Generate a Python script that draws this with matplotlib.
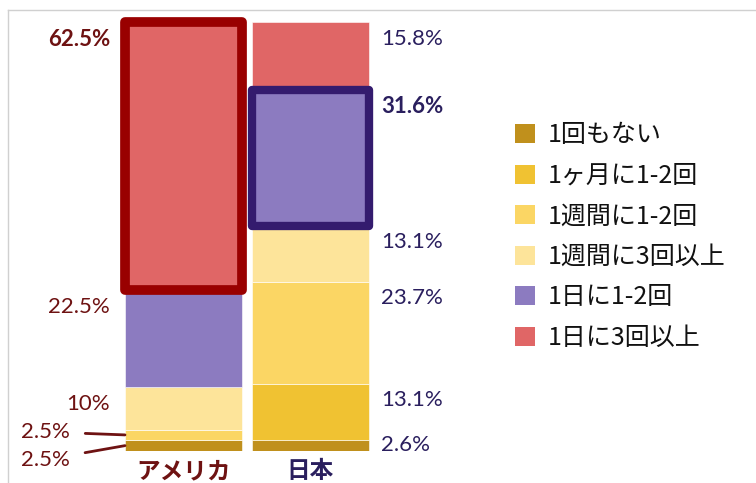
import matplotlib.pyplot as plt
from matplotlib.lines import Line2D
from matplotlib.patches import Patch

# Data
#---------------------------
countries = ["アメリカ", "日本"]
categories = ["1回もない", "1ヶ月に1-2回", "1週間に1-2回", "1週間に3回以上", "1日に1-2回", "1日に3回以上"]
usa = [2.5, 0, 2.5, 10, 22.5, 62.5]
japan = [2.6, 13.1, 23.7, 13.1, 31.6, 15.8]
highlight = [5, 4]   # segment that gets the thick box, per country

colors = ["#C0901C", "#F0C232", "#FBD664", "#FDE49A", "#8C7BC0", "#E06666"]
box_colors = ["#990000", "#341B6E"]
text_colors = ["#6E1212", "#2A1F5E"]

plt.rcParams['font.family'] = ['Lato', 'Noto Sans CJK JP', 'DejaVu Sans']

W, H = 756, 483
fig = plt.figure(figsize=(W / 100, H / 100), dpi=100)
# axes placed so that 0..100 maps onto the bar area
ax = fig.add_axes([120 / W, (H - 451) / H, 254 / W, 429 / H])
ax.set_xlim(-0.5, 1.5)
ax.set_ylim(0, 100)
ax.axis('off')

series = [usa, japan]
width = 117 / 127
for ci, vals in enumerate(series):
    bottom = 0
    for si, v in enumerate(vals):
        bar = ax.bar(ci, v, width=width, bottom=bottom, color=colors[si],
                     edgecolor="white", linewidth=0.4, zorder=2)[0]
        if si == highlight[ci]:
            bar.set_edgecolor(box_colors[ci])
            bar.set_linewidth(7 if ci == 0 else 6)
            bar.set_joinstyle('round')
            bar.set_zorder(4)
            bar.set_clip_on(False)
        bottom += v

# percentage labels
fs = 16
for ci, vals in enumerate(series):
    bottom = 0
    for si, v in enumerate(vals):
        top = bottom + v
        if v > 0:
            bold = 'bold' if si == highlight[ci] else 'normal'
            label = f"{v:g}%"
            if ci == 0:
                xe = ci - width / 2
                if v < 5:
                    # small slices: label with a leader line
                    mid = bottom + v / 2
                    dy = 3 if si == 2 else -14
                    ax.annotate(label, xy=(xe, mid), xytext=(-55, dy),
                                textcoords='offset pixels', ha='right', va='center',
                                fontsize=fs, color=text_colors[ci],
                                arrowprops=dict(arrowstyle='-', color=text_colors[ci],
                                                lw=2, shrinkA=9, shrinkB=0))
                else:
                    ax.annotate(label, xy=(xe, top), xytext=(-15, -17),
                                textcoords='offset pixels', ha='right', va='center',
                                fontsize=fs, fontweight=bold, color=text_colors[ci])
            else:
                xe = ci + width / 2
                ly = max(top - 3.8, 1.5)
                ax.annotate(label, xy=(xe, ly), xytext=(12, 0),
                            textcoords='offset pixels', ha='left', va='center',
                            fontsize=fs, fontweight=bold, color=text_colors[ci])
        bottom = top

# country names under the bars
for ci, name in enumerate(countries):
    ax.annotate(name, xy=(ci, 0), xytext=(0, -20), textcoords='offset pixels',
                ha='center', va='center', fontsize=17, fontweight='bold',
                color=text_colors[ci], family=['Noto Sans CJK JP'])

# legend
handles = [Patch(facecolor=c, edgecolor='none') for c in colors]
fig.legend(handles, categories, loc='upper left', bbox_to_anchor=(492 / W, 1 - 100 / H),
           frameon=False, prop={'family': 'Noto Sans CJK JP', 'size': 18},
           handlelength=0.8, handleheight=0.8, handletextpad=0.55,
           labelspacing=0.58, labelcolor='#111111')

# thin frame lines
fig.add_artist(Line2D([8 / W, 1], [1 - 10 / H, 1 - 10 / H], color='#d0d0d0', lw=1))
fig.add_artist(Line2D([8 / W, 8 / W], [0, 1 - 10 / H], color='#d0d0d0', lw=1))

fig.savefig("out.png", dpi=100)
